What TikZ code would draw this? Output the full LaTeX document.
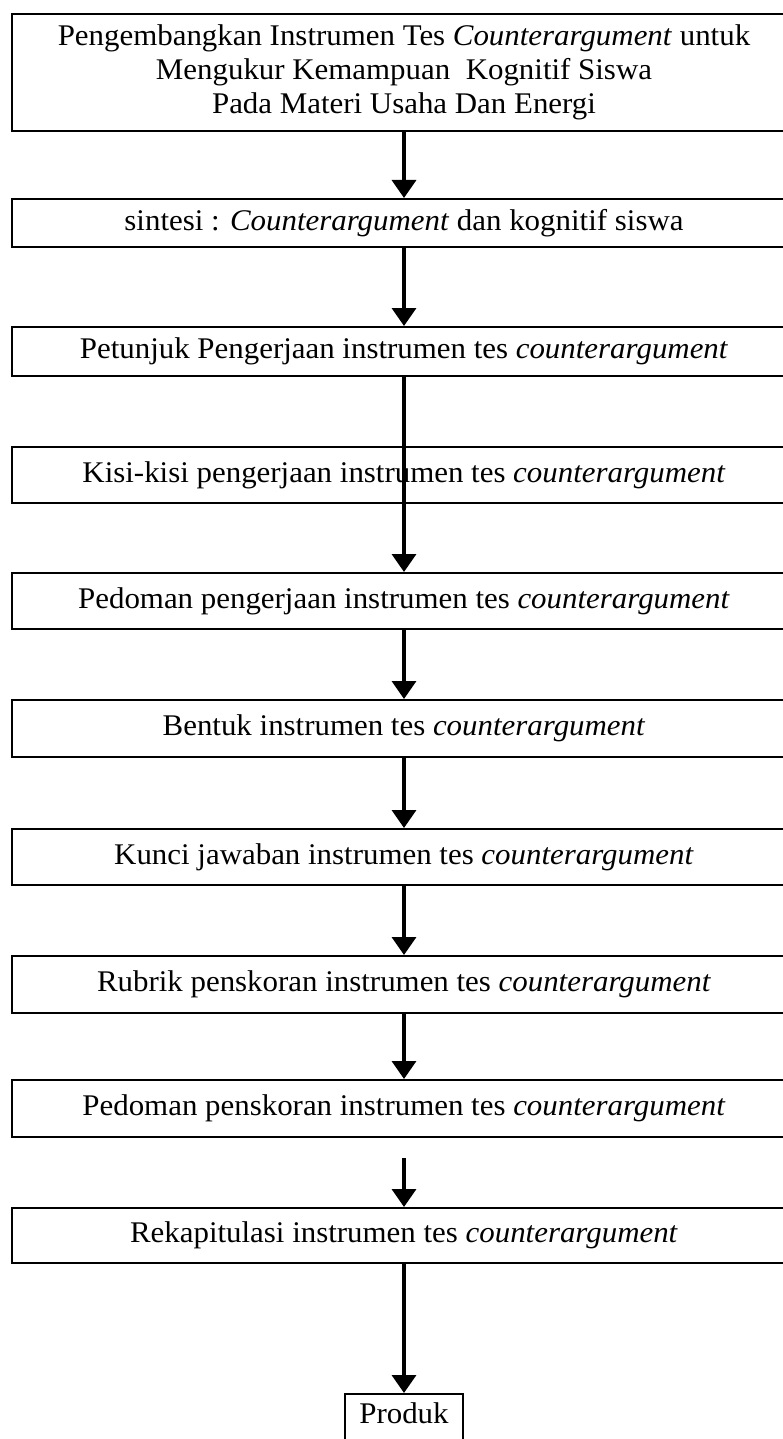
\documentclass[tikz,border=0pt]{standalone}
\usepackage{fontspec}
\setmainfont{Liberation Serif}[FakeStretch=1.03]
\usetikzlibrary{arrows.meta}
\begin{document}
\begin{tikzpicture}[x=1pt,y=-1pt,
  box/.style={draw, line width=2pt, minimum width=784pt, inner sep=0pt,
    font=\fontsize{30}{34}\selectfont, align=center},
  arr/.style={line width=3.5pt, -{Triangle[width=24pt,length=18pt]}}]
\useasboundingbox (0,0) rectangle (783,1439);
\node[box, minimum height=117pt] (b1) at (404,72.5)
  {Pengembangkan Instrumen Tes \textit{Counterargument} untuk\\
   Mengukur Kemampuan~ Kognitif Siswa\\
   Pada Materi Usaha Dan Energi};
\node[box, minimum height=48pt] (b2) at (404,223)
  {sintesi : \textit{Counterargument} dan kognitif siswa};
\node[box, minimum height=49pt] (b3) at (404,351.5)
  {Petunjuk Pengerjaan instrumen tes \textit{counterargument}};
\node[box, minimum height=56pt] (b4) at (404,475)
  {Kisi-kisi pengerjaan instrumen tes \textit{counterargument}};
\node[box, minimum height=56pt] (b5) at (404,601)
  {Pedoman pengerjaan instrumen tes \textit{counterargument}};
\node[box, minimum height=57pt] (b6) at (404,728.5)
  {Bentuk instrumen tes \textit{counterargument}};
\node[box, minimum height=56pt] (b7) at (404,857)
  {Kunci jawaban instrumen tes \textit{counterargument}};
\node[box, minimum height=57pt] (b8) at (404,984.5)
  {Rubrik penskoran instrumen tes \textit{counterargument}};
\node[box, minimum height=57pt] (b9) at (404,1108.5)
  {Pedoman penskoran instrumen tes \textit{counterargument}};
\node[box, minimum height=55pt] (b10) at (404,1235.5)
  {Rekapitulasi instrumen tes \textit{counterargument}};
\node[draw, line width=2pt, anchor=north, minimum width=118pt, inner xsep=0pt,
  inner ysep=4pt, text height=25pt, text depth=35pt,
  font=\fontsize{30}{34}\selectfont] (p) at (404,1393) {Produk};
\coordinate (g9) at ([yshift=-20pt]b9.south);
\draw[arr] (b1) -- (b2);
\draw[arr] (b2) -- (b3);
\draw[arr] (b3.south) -- (b5.north);
\draw[arr] (b5) -- (b6);
\draw[arr] (b6) -- (b7);
\draw[arr] (b7) -- (b8);
\draw[arr] (b8) -- (b9);
\draw[arr] (g9) -- (b10.north);
\draw[arr] (b10) -- (p);
\end{tikzpicture}
\end{document}
